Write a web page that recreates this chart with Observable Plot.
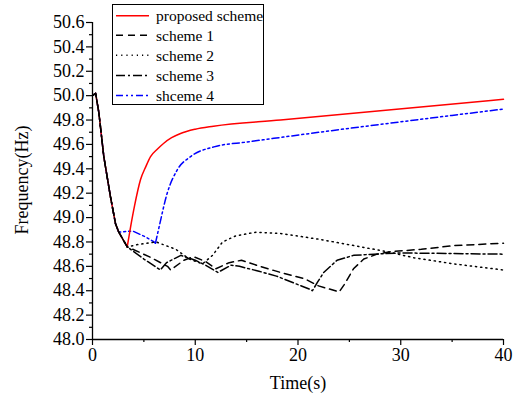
<!DOCTYPE html>
<html>
<head>
<meta charset="utf-8">
<script src="https://cdn.jsdelivr.net/npm/d3@7"></script>
<script src="https://cdn.jsdelivr.net/npm/@observablehq/plot@0.6"></script>
<style>
  body { margin: 0; background: #fff; }
  #chart { position: relative; width: 521px; height: 401px; }
  #chart svg, #chart svg text { font-family: "Liberation Serif", "Times New Roman", serif !important; }
</style>
</head>
<body>
<div id="chart"></div>
<script>
// ---- data ----
const descT = [0, 0.3, 0.62, 1.1, 1.75, 2.24, 2.56];
const descF = [50.0, 50.02, 49.86, 49.50, 49.17, 48.95, 48.88];

const propT = [3.38, 3.7, 4.1, 4.67, 5.2, 5.65, 6.3, 6.94, 7.7, 8.57, 10.0, 11.78, 18.3, 40];
const propF = [48.76, 48.92, 49.1, 49.31, 49.42, 49.50, 49.56, 49.61, 49.655, 49.69, 49.725, 49.75, 49.80, 49.97];

const s1T = [3.38, 5.5, 7.3, 7.6, 8.9, 9.8, 11.0, 12.0, 13.3, 14.5, 16.3, 18.3, 20.6, 22.0, 24.0, 24.5, 25.4, 26.4, 27.7, 29.0, 32.0, 35.2, 40];
const s1F = [48.76, 48.68, 48.60, 48.57, 48.65, 48.68, 48.64, 48.58, 48.63, 48.65, 48.60, 48.55, 48.50, 48.44, 48.39, 48.45, 48.58, 48.66, 48.70, 48.72, 48.74, 48.77, 48.79];

const s2T = [3.38, 4.5, 6.2, 7.14, 8.11, 9.42, 10.71, 11.68, 12.66, 13.95, 15.9, 18.3, 22.2, 26.1, 28.7, 31.3, 35.2, 40];
const s2F = [48.76, 48.78, 48.80, 48.77, 48.74, 48.66, 48.62, 48.69, 48.80, 48.85, 48.88, 48.87, 48.82, 48.76, 48.72, 48.67, 48.62, 48.57];

const s3T = [3.38, 5.0, 6.6, 7.2, 8.6, 10.0, 11.0, 12.2, 13.5, 14.3, 16.2, 17.9, 21.2, 21.4, 21.9, 22.5, 23.8, 25.4, 27.4, 30.0, 40];
const s3F = [48.76, 48.66, 48.57, 48.63, 48.69, 48.65, 48.61, 48.55, 48.61, 48.60, 48.56, 48.52, 48.41, 48.40, 48.47, 48.55, 48.65, 48.69, 48.70, 48.71, 48.70];

const s4T = [2.56, 3.9, 5.2, 6.0, 6.13];
const s4F = [48.88, 48.89, 48.84, 48.80, 48.79];
const s4RiseT = [6.13, 6.5, 7.27, 8.24, 9.54, 11.81, 15.06, 17.65, 40];
const s4RiseF = [48.79, 48.93, 49.20, 49.39, 49.50, 49.58, 49.62, 49.65, 49.89];

const legendLabels = ["proposed scheme", "scheme 1", "scheme 2", "scheme 3", "shceme 4"];
const yTicks = [48.0, 48.2, 48.4, 48.6, 48.8, 49.0, 49.2, 49.4, 49.6, 49.8, 50.0, 50.2, 50.4, 50.6];
const xTicks = [0, 10, 20, 30, 40];

// ---- build series ----
const toPts = (T, F) => T.map((t, i) => ({t, f: F[i]}));
const desc = toPts(descT, descF);
const descToMin = desc.concat([{t: 3.38, f: 48.76}]);
const styles = [
  {stroke: "#ff0000", dash: null},
  {stroke: "#000", dash: "7,5"},
  {stroke: "#000", dash: "1.2,4"},
  {stroke: "#000", dash: "9,3,2,3"},
  {stroke: "#0000ff", dash: "7,3,2,3,2,3"}
];

const minorY = d3.range(48.0, 50.61, 0.1).map(v => +v.toFixed(1)).filter(v => !yTicks.some(t => Math.abs(t - v) < 1e-6));
const minorX = [5, 15, 25, 35];

const ln = (pts, i, curve) => Plot.line(pts, {x: "t", y: "f", stroke: styles[i].stroke, strokeWidth: 1.5, strokeDasharray: styles[i].dash, curve});

const lineMarks = [
  ln(desc.concat(toPts(s4T, s4F).slice(1)), 4, "linear"),
  ln(toPts(s4RiseT, s4RiseF), 4, "monotone-x"),
  ln(descToMin, 0, "linear"),
  ln(toPts(propT, propF), 0, "monotone-x"),
  ln(descToMin.concat(toPts(s2T, s2F).slice(1)), 2, "linear"),
  ln(descToMin.concat(toPts(s1T, s1F).slice(1)), 1, "linear"),
  ln(descToMin.concat(toPts(s3T, s3F).slice(1)), 3, "linear")
];

const FONT = "Liberation Serif, Times New Roman, serif";

const plot = Plot.plot({
  width: 521,
  height: 401,
  marginLeft: 92,
  marginRight: 18,
  marginTop: 22,
  marginBottom: 62,
  style: {fontFamily: FONT, background: "#fff"},
  x: {domain: [0, 40]},
  y: {domain: [48, 50.6]},
  marks: [
    ...lineMarks,
    Plot.axisY(yTicks, {tickSize: 6, tickPadding: 2, tickFormat: d3.format(".1f"), fontSize: 18, fontFamily: FONT, label: null, stroke: "#000", strokeWidth: 1.2, color: "#000"}),
    Plot.axisY(minorY, {tickSize: 3, tickFormat: () => "", label: null, stroke: "#000", strokeWidth: 1.2}),
    Plot.axisX(xTicks, {tickSize: 6, tickPadding: 3, fontSize: 18, fontFamily: FONT, label: null, stroke: "#000", strokeWidth: 1.2, color: "#000"}),
    Plot.axisX(minorX, {tickSize: 3, tickFormat: () => "", label: null, stroke: "#000", strokeWidth: 1.2}),
    Plot.ruleX([0], {stroke: "#000", strokeWidth: 1.3}),
    Plot.ruleY([48], {stroke: "#000", strokeWidth: 1.3})
  ]
});

document.getElementById("chart").appendChild(plot);

// axis titles and legend
const svg = d3.select(plot);
svg.append("text")
  .attr("transform", "translate(28,180) rotate(-90)")
  .attr("text-anchor", "middle")
  .attr("font-family", FONT)
  .attr("font-size", 18)
  .attr("fill", "#000")
  .text("Frequency(Hz)");
svg.append("text")
  .attr("x", 298)
  .attr("y", 389)
  .attr("text-anchor", "middle")
  .attr("font-family", FONT)
  .attr("font-size", 18)
  .attr("fill", "#000")
  .text("Time(s)");

const lg = svg.append("g").attr("text-anchor", "start");
lg.append("rect").attr("x", 112.5).attr("y", 4.5).attr("width", 151).attr("height", 100)
  .attr("fill", "#fff").attr("stroke", "#000").attr("stroke-width", 1);
const rowsY = [15.7, 35.3, 55.3, 75.5, 95.5];
legendLabels.forEach((lab, i) => {
  const s = styles[i];
  lg.append("line").attr("x1", 116).attr("x2", 149).attr("y1", rowsY[i]).attr("y2", rowsY[i])
    .attr("stroke", s.stroke).attr("stroke-width", 1.5)
    .attr("stroke-dasharray", s.dash);
  lg.append("text").attr("x", 156).attr("y", rowsY[i]).attr("dy", "0.35em")
    .attr("text-anchor", "start")
    .attr("font-family", FONT)
    .attr("font-size", 15.5).attr("fill", "#000").text(lab);
});
</script>
</body>
</html>
